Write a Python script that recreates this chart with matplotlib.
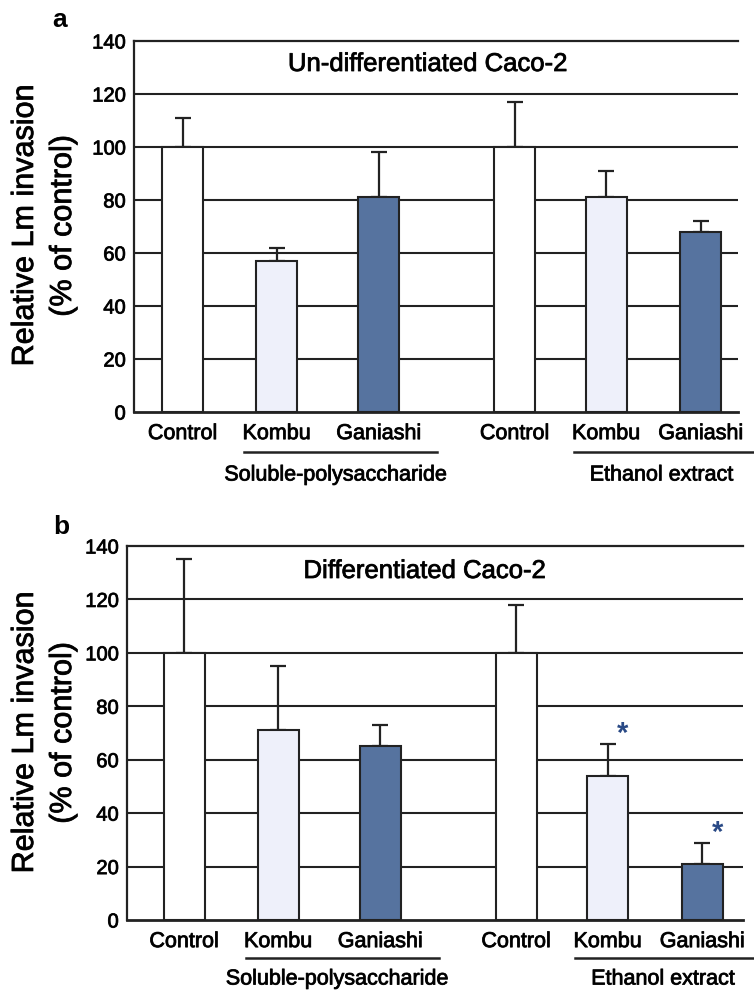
import matplotlib.pyplot as plt
import matplotlib.transforms as mtransforms
import matplotlib.patheffects as pe

plt.rcParams['font.family'] = ['Liberation Sans', 'DejaVu Sans']

# data
categories = ['Control', 'Kombu', 'Ganiashi', 'Control', 'Kombu', 'Ganiashi']
groups = ['Soluble-polysaccharide', 'Ethanol extract']
undiff_vals = [100, 57, 81, 100, 81, 68]
undiff_err = [11, 5, 17, 17, 10, 4]
diff_vals = [100, 71, 65, 100, 54, 21]
diff_err = [35, 24, 8, 18, 12, 8]
diff_signif = [False, False, False, False, True, True]
yticks = [0, 20, 40, 60, 80, 100, 120, 140]

# layout (x in pixel-like units)
xpos = [0, 94, 196, 332, 423.5, 518]
bar_w = 41
bar_colors = ['white', '#eef0fa', '#56739f', 'white', '#eef0fa', '#56739f']
line_c = '#222222'
heavy = [pe.withStroke(linewidth=0.6, foreground='#111111')]

fig = plt.figure(figsize=(7.54, 9.93), dpi=100)
W, H = 754, 993


def panel(rect_px, xlim, vals, errs, title, title_xy, letter, letter_xy,
          ylabel_y, line_y, group_y, signif=None):
    l, t, r, b = rect_px
    ax = fig.add_axes([l / W, 1 - b / H, (r - l) / W, (b - t) / H])
    ax.set_xlim(*xlim)
    ax.set_ylim(0, 140)
    ax.set_axisbelow(True)
    for y in yticks[1:-1]:
        ax.axhline(y, color=line_c, lw=1.5, zorder=0)
    ax.bar(xpos, vals, width=bar_w, color=bar_colors, edgecolor=line_c,
           linewidth=1.5, zorder=2)
    ax.errorbar(xpos, vals, yerr=[[0] * len(vals), errs], fmt='none',
                ecolor=line_c, elinewidth=1.6, capsize=6, capthick=1.6, zorder=1)
    if signif is not None:
        for x, v, e, s in zip(xpos, vals, errs, signif):
            if s:
                ax.annotate('*', (x, v + e), xytext=(7, -3), textcoords='offset points',
                            fontsize=21, color='#2a4a86', fontweight='bold',
                            ha='left', va='bottom')
    ax.spines['right'].set_visible(False)
    for s in ['left', 'bottom', 'top']:
        ax.spines[s].set_color(line_c)
        ax.spines[s].set_linewidth(1.6)
    ax.spines['bottom'].set_linewidth(2)
    ax.set_yticks(yticks)
    ax.set_yticklabels([str(v) for v in yticks], fontsize=14.5, path_effects=heavy)
    ax.tick_params(axis='y', length=0, pad=6)
    ax.set_xticks(xpos)
    ax.set_xticklabels(categories, fontsize=15.5, path_effects=heavy)
    ax.tick_params(axis='x', length=0, pad=8)
    fig.text(title_xy[0] / W, 1 - title_xy[1] / H, title,
             fontsize=18.5, ha='center', va='center', path_effects=heavy)
    fig.text(letter_xy[0] / W, 1 - letter_xy[1] / H, letter, fontsize=19,
             fontweight='bold', ha='center', va='center')
    fig.text(44 / W, 1 - ylabel_y / H, 'Relative Lm invasion\n(% of control)',
             rotation=90, fontsize=22, ha='center', va='center', linespacing=1.35,
             path_effects=heavy)
    trans = mtransforms.blended_transform_factory(ax.transData, fig.transFigure)
    for gi, (i, j) in enumerate([(1, 2), (4, 5)]):
        x0 = xpos[i] - bar_w / 2 - 12
        x1 = xpos[j] + bar_w / 2 + 38 + 40 * gi
        ax.plot([x0, x1], [1 - line_y / H] * 2, color=line_c, lw=1.8,
                transform=trans, clip_on=False)
        cx = (xpos[i] + xpos[j]) / 2 + 8
        ax.text(cx, 1 - group_y / H, groups[gi], transform=trans,
                fontsize=15.5, ha='center', va='center', path_effects=heavy)
    return ax


panel((134, 41, 738, 412), (-48.5, 555.5), undiff_vals, undiff_err,
      'Un-differentiated Caco-2', (428, 64), 'a', (60, 20), 226, 452, 475)
panel((127, 546, 743, 920), (-57, 559), diff_vals, diff_err,
      'Differentiated Caco-2', (425, 571), 'b', (61, 527), 733, 958, 979,
      signif=diff_signif)

fig.savefig('out.png', dpi=100)
